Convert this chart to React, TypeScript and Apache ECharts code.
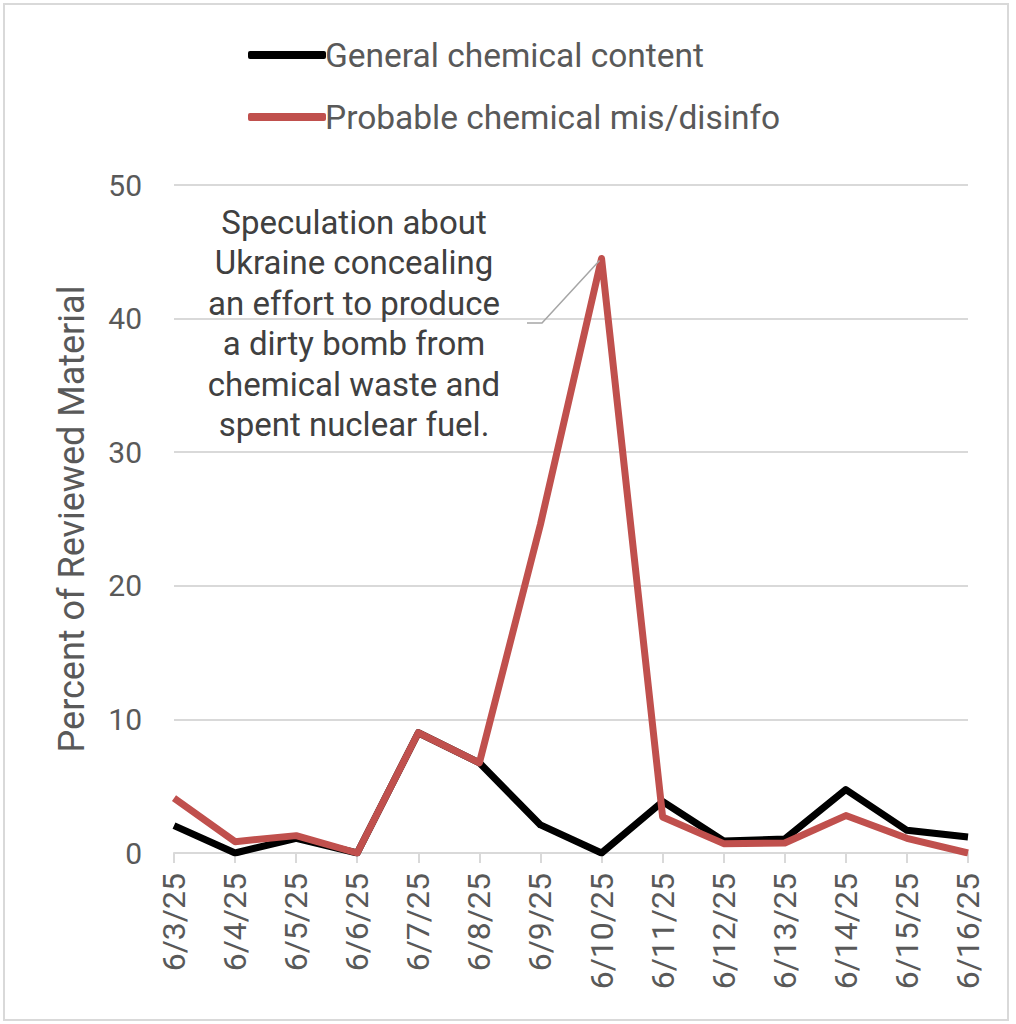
import React, { useEffect, useRef } from "react";
import * as echarts from "echarts";

const categories = [
  "6/3/25", "6/4/25", "6/5/25", "6/6/25", "6/7/25", "6/8/25", "6/9/25",
  "6/10/25", "6/11/25", "6/12/25", "6/13/25", "6/14/25", "6/15/25", "6/16/25",
];
const generalContent = [2.05, 0, 1.1, 0, 9.0, 6.75, 2.1, 0, 3.85, 0.9, 1.05, 4.75, 1.7, 1.2];
const probableMisinfo = [4.1, 0.85, 1.3, 0, 9.0, 6.75, 24.6, 44.5, 2.7, 0.7, 0.75, 2.8, 1.1, 0];
const seriesNames = ["General chemical content", "Probable chemical mis/disinfo"];
const yTicks = { min: 0, max: 50, interval: 10 };
const annotationText =
  "Speculation about\nUkraine concealing\nan effort to produce\na dirty bomb from\nchemical waste and\nspent nuclear fuel.";
const annotationIndex = 7;

export default function App() {
  const ref = useRef<HTMLDivElement>(null);
  useEffect(() => {
    if (!ref.current) return;
    const chart = echarts.init(ref.current, null, { renderer: "svg" });
    const font = "Roboto";
    chart.setOption({
      animation: false,
      backgroundColor: "#ffffff",
      textStyle: { fontFamily: font },
      grid: { left: 174, right: 48, top: 185, bottom: 171, containLabel: false },
      legend: {
        orient: "vertical",
        left: 243,
        top: 30,
        icon: "roundRect",
        itemWidth: 78,
        itemHeight: 8,
        itemGap: 22,
        textStyle: { fontFamily: font, fontSize: 33.5, color: "#595959", lineHeight: 40, padding: [0, 0, 0, -6] },
        data: seriesNames,
      },
      xAxis: {
        type: "category",
        data: categories,
        boundaryGap: false,
        axisLine: { lineStyle: { color: "#d9d9d9", width: 2 } },
        axisTick: { show: true, length: 10, lineStyle: { color: "#d9d9d9", width: 2 } },
        axisLabel: { rotate: 90, fontSize: 32, color: "#595959", margin: 20, fontFamily: font, interval: 0 },
        splitLine: { show: false },
      },
      yAxis: {
        type: "value",
        min: yTicks.min,
        max: yTicks.max,
        interval: yTicks.interval,
        name: "Percent of Reviewed Material",
        nameLocation: "middle",
        nameGap: 84,
        nameTextStyle: { fontSize: 36, color: "#595959", fontFamily: font },
        axisLine: { show: false },
        axisTick: { show: false },
        axisLabel: { fontSize: 30, color: "#595959", margin: 32, fontFamily: font },
        splitLine: { lineStyle: { color: "#d9d9d9", width: 2 } },
      },
      series: [
        {
          name: seriesNames[0],
          type: "line",
          data: generalContent,
          showSymbol: false,
          symbol: "none",
          lineStyle: { color: "#000000", width: 7, join: "round" },
          itemStyle: { color: "#000000" },
          z: 2,
        },
        {
          name: seriesNames[1],
          type: "line",
          data: probableMisinfo,
          showSymbol: false,
          symbol: "none",
          lineStyle: { color: "#c0504d", width: 7, join: "round" },
          itemStyle: { color: "#c0504d" },
          z: 3,
        },
      ],
    });
    const peak = chart.convertToPixel({ gridIndex: 0 }, [annotationIndex, probableMisinfo[annotationIndex]]) as number[];
    chart.setOption({
      graphic: [
        {
          type: "rect",
          shape: { x: 4, y: 4, width: 1004, height: 1016 },
          style: { fill: "none", stroke: "#d9d9d9", lineWidth: 2 },
          silent: true,
        },
        {
          type: "text",
          x: 354,
          y: 202,
          style: {
            text: annotationText,
            fontFamily: font,
            fontSize: 33,
            lineHeight: 40.5,
            fill: "#404040",
            align: "center",
            verticalAlign: "top",
          },
          z: 10,
        },
        {
          type: "polyline",
          shape: { points: [[527, 323], [542, 323], [peak[0] - 2, peak[1] + 2]] },
          style: { stroke: "#a6a6a6", lineWidth: 1.5, fill: "none" },
          z: 10,
        },
      ],
    });
    return () => chart.dispose();
  }, []);
  return (
    <div
      ref={ref}
      style={{ position: "absolute", left: 0, top: 0, width: 1016, height: 1024 }}
    />
  );
}
